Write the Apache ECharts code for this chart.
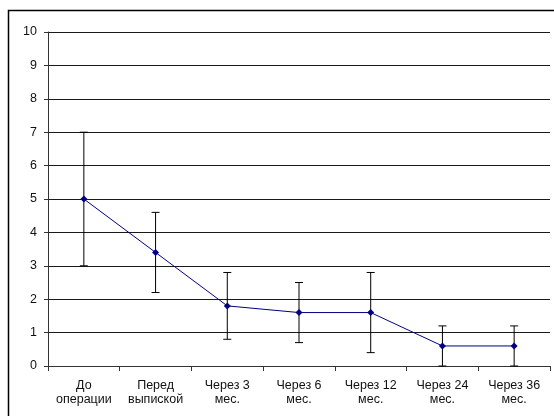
<!DOCTYPE html>
<html><head><meta charset="utf-8">
<script src="https://cdn.jsdelivr.net/npm/echarts@6/dist/echarts.min.js"></script>
<style>html,body{margin:0;padding:0;background:#fff}#c{width:554px;height:416px}</style>
</head><body><div id="c"></div>
<script>
const categories = ['До\nоперации', 'Перед\nвыпиской', 'Через 3\nмес.', 'Через 6\nмес.', 'Через 12\nмес.', 'Через 24\nмес.', 'Через 36\nмес.'];
const means = [5, 3.4, 1.8, 1.6, 1.6, 0.6, 0.6];
const lowers = [3, 2.2, 0.8, 0.7, 0.4, 0, 0];
const uppers = [7, 4.6, 2.8, 2.5, 2.8, 1.2, 1.2];
const yTicks = [0,1,2,3,4,5,6,7,8,9,10];

const errData = categories.map((c, i) => [i, lowers[i], uppers[i]]);
const chart = echarts.init(document.getElementById('c'), null, {renderer: 'canvas'});
chart.setOption({
  animation: false,
  textStyle: {fontFamily: 'Liberation Sans, Arial, sans-serif'},
  graphic: [{type: 'rect', shape: {x: 8.5, y: 10.5, width: 560, height: 420}, style: {fill: 'none', stroke: '#000', lineWidth: 1.5}, silent: true, z: -1}],
  grid: {left: 48, top: 32, right: 4, bottom: 50, containLabel: false},
  xAxis: {
    type: 'category', data: categories, boundaryGap: true,
    axisLine: {lineStyle: {color: '#333', width: 1}},
    axisTick: {show: true, alignWithLabel: false, length: 5, lineStyle: {color: '#333'}},
    axisLabel: {color: '#111', fontSize: 12.5, lineHeight: 14, margin: 13, interval: 0}
  },
  yAxis: {
    type: 'value', min: yTicks[0], max: yTicks[yTicks.length-1], interval: 1,
    axisLine: {show: true, lineStyle: {color: '#333'}},
    axisTick: {show: true, length: 4, lineStyle: {color: '#333'}},
    axisLabel: {color: '#111', fontSize: 12.5, margin: 11},
    splitLine: {lineStyle: {color: '#1a1a1a', width: 1}}
  },
  series: [
    {
      type: 'custom', data: errData, z: 3,
      renderItem: function(params, api) {
        const x = api.value(0);
        const lo = api.coord([x, api.value(1)]);
        const hi = api.coord([x, api.value(2)]);
        const hw = 4;
        const st = {stroke: '#000', lineWidth: 1};
        return {type: 'group', children: [
          {type: 'line', shape: {x1: lo[0], y1: lo[1], x2: hi[0], y2: hi[1]}, style: st},
          {type: 'line', shape: {x1: lo[0]-hw, y1: lo[1], x2: lo[0]+hw, y2: lo[1]}, style: st},
          {type: 'line', shape: {x1: hi[0]-hw, y1: hi[1], x2: hi[0]+hw, y2: hi[1]}, style: st}
        ]};
      }
    },
    {
      type: 'line', data: means, z: 4,
      symbol: 'diamond', symbolSize: 7,
      lineStyle: {color: '#000080', width: 1},
      itemStyle: {color: '#000080'}
    }
  ]
});
</script></body></html>
